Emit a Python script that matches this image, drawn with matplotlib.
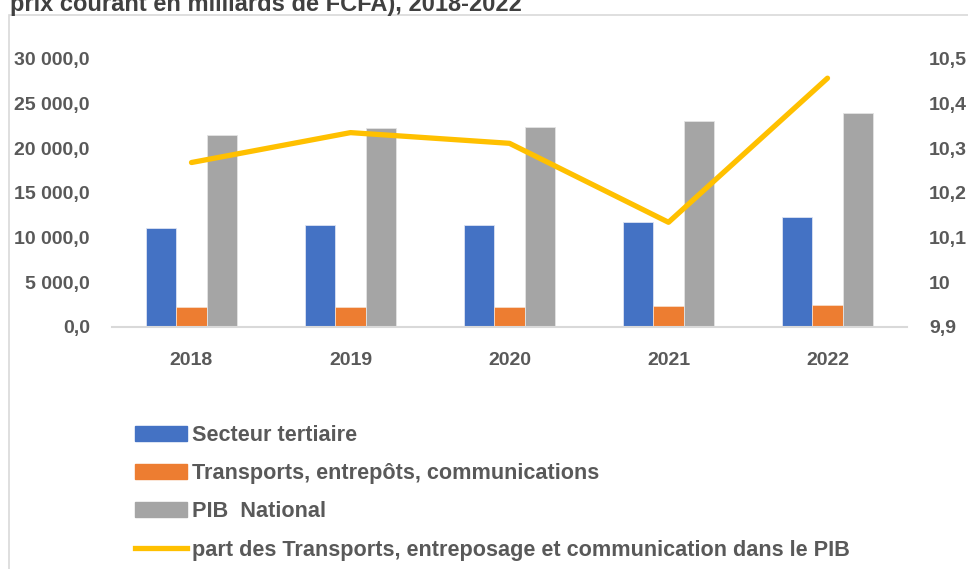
import numpy as np
import matplotlib
matplotlib.use("Agg")
from matplotlib import pyplot as plt
from matplotlib.patches import Rectangle
from matplotlib.lines import Line2D
from matplotlib.patches import Patch

years = ['2018', '2019', '2020', '2021', '2022']
tertiaire = [11030, 11370, 11400, 11700, 12265]
transports = [2175, 2240, 2210, 2320, 2430]
pib = [21525, 22280, 22355, 23095, 23925]
part = [10.268, 10.335, 10.311, 10.134, 10.457]

labels = ['Secteur tertiaire', 'Transports, entrepôts, communications',
          'PIB  National', 'part des Transports, entreposage et communication dans le PIB']
colors = ['#4472C4', '#ED7D31', '#A5A5A5', '#FFC000']
title = 'prix courant en milliards de FCFA), 2018-2022'

FONT = ['Liberation Sans Narrow', 'Liberation Sans', 'DejaVu Sans']
TXT = '#595959'
plt.rcParams['font.family'] = FONT
plt.rcParams['font.weight'] = 'bold'

W, H = 968, 569
fig = plt.figure(figsize=(W / 100, H / 100), dpi=100)

# chart frame
fig.patches.append(Rectangle((9 / W, -0.1), 1.2, 1 - 15 / H + 0.1, transform=fig.transFigure,
                             fill=False, edgecolor='#d9d9d9', lw=1.2))
# title is cut off at the top, like in the source image
fig.text(10 / W, 1 - 11.5 / H, title, fontsize=17, color='#404040', fontweight='bold',
         va='baseline', ha='left')

ax = fig.add_axes([112 / W, 1 - 326.7 / H, (907 - 112) / W, (326.7 - 59) / H])
x = np.arange(len(years))
bw = 0.19
ax.bar(x - bw, tertiaire, bw, color=colors[0], edgecolor='#dce3f2', lw=0.6)
ax.bar(x, transports, bw, color=colors[1], edgecolor='#f7dcc8', lw=0.6)
ax.bar(x + bw, pib, bw, color=colors[2], edgecolor='#e4e4e4', lw=0.6)
ax.set_xlim(-0.5, len(years) - 0.5)
ax.set_ylim(0, 30000)
yt = np.arange(0, 30001, 5000)
ax.set_yticks(yt)
ax.set_yticklabels([f"{v:,.1f}".replace(',', ' ').replace('.', ',') for v in yt])
ax.set_xticks(x)
ax.set_xticklabels(years)
for s in ['top', 'left', 'right']:
    ax.spines[s].set_visible(False)
ax.spines['bottom'].set_color('#d9d9d9')
ax.spines['bottom'].set_linewidth(1.5)
ax.tick_params(length=0, labelsize=14, colors=TXT)
ax.tick_params(axis='y', pad=16)
ax.tick_params(axis='x', pad=18)

ax2 = ax.twinx()
ax2.plot(x, part, color=colors[3], lw=3.8, solid_capstyle='round', solid_joinstyle='round')
ax2.set_ylim(9.9, 10.5)
rt = np.round(np.arange(9.9, 10.51, 0.1), 1)
ax2.set_yticks(rt)
ax2.set_yticklabels([f"{v:g}".replace('.', ',') for v in rt])
for s in ax2.spines.values():
    s.set_visible(False)
ax2.tick_params(length=0, labelsize=14, colors=TXT, pad=16)

handles = [Patch(color=colors[0]), Patch(color=colors[1]), Patch(color=colors[2]),
           Line2D([0], [0], color=colors[3], lw=3.8)]
fig.legend(handles, labels, loc='upper left', bbox_to_anchor=(126 / W, 1 - 416 / H),
           frameon=False, fontsize=15.6, labelcolor=TXT, handlelength=2.4, handleheight=0.7,
           handletextpad=0.25, labelspacing=0.8, borderaxespad=0)

fig.savefig('out.png', dpi=100)
